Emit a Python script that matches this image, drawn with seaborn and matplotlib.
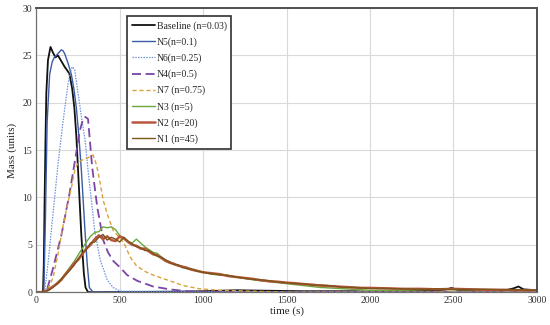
import numpy as np
import pandas as pd
import matplotlib
matplotlib.use("Agg")
import matplotlib.pyplot as plt
import seaborn as sns

# ---------------- data ----------------
t_base = [0, 40, 45, 50, 55, 60, 70, 85, 100, 115, 130, 150, 170, 198, 215, 228,
          240, 250, 260, 270, 285, 295, 310, 400, 800, 1000, 1200, 1400, 1600,
          1900, 2000, 2200, 2400, 2460, 2490, 2520, 2600, 2800, 2860, 2890,
          2920, 3000]
m_base = [0, 0, 3, 10, 16, 21, 24.5, 25.9, 25.3, 24.8, 25.0, 24.4, 23.8, 23.1,
          21.5, 19.5, 16.5, 13, 9.5, 6, 2, 0.5, 0, 0, 0.05, 0.1, 0.2, 0.15,
          0.1, 0.1, 0.05, 0.1, 0.15, 0.3, 0.45, 0.25, 0.15, 0.15, 0.4, 0.6,
          0.3, 0.2]

t_n5 = [0, 45, 55, 65, 80, 95, 108, 125, 140, 150, 160, 170, 190, 210, 225,
        240, 255, 270, 280, 290, 305, 318, 340, 3000]
m_n5 = [0, 0, 8, 18, 23, 24.3, 24.8, 25.1, 25.4, 25.6, 25.5, 25.2, 24.2,
        23.0, 21.5, 19.5, 16.5, 12.9, 10, 7, 3, 0.5, 0, 0]

t_n6 = [0, 50, 70, 90, 110, 130, 160, 190, 205, 215, 230, 250, 275, 293, 310,
        330, 350, 383, 425, 460, 503, 3000]
m_n6 = [0, 0, 3, 6.5, 10, 13.5, 18, 22, 23.3, 23.8, 23.5, 21, 18, 16, 12.9,
        9.7, 6.5, 3.4, 1.3, 0.5, 0.1, 0]

t_n4 = [0, 60, 100, 150, 200, 228, 260, 282, 295, 310, 335, 365, 401, 430,
        461, 503, 545, 605, 700, 800, 900, 1000, 3000]
m_n4 = [0, 0, 2.5, 6, 10.5, 13.5, 17, 18.4, 18.5, 18.3, 13.2, 9.0, 5.5, 4.2,
        3.3, 2.6, 1.8, 1.2, 0.6, 0.3, 0.1, 0, 0]

t_n7 = [0, 60, 100, 130, 160, 190, 210, 230, 250, 280, 310, 340, 360, 380,
        401, 430, 461, 503, 530, 563, 600, 650, 700, 800, 880, 980, 1100,
        1300, 1500, 3000]
m_n7 = [0, 0, 1.5, 4, 7, 9.5, 11, 12.8, 13.7, 14.0, 14.2, 14.5, 13.5, 11.8,
        9.7, 8.0, 6.5, 5.7, 5.0, 3.7, 2.8, 2.2, 1.8, 1.2, 0.7, 0.35, 0.2,
        0.1, 0, 0]

t_slow = ([0, 25, 50, 75, 100, 125, 150, 175, 200, 225, 250, 275, 300, 325,
           350, 375, 400, 425, 450, 475, 500, 525, 550, 575, 600, 625, 650,
           675, 700, 725, 750, 775, 800, 825, 850, 875, 900, 925, 950, 975,
           1000]
          + [1050, 1100, 1150, 1200, 1250, 1300, 1350, 1400, 1450, 1500,
             1550, 1600, 1650, 1700, 1750, 1800, 1850, 1900, 1950, 2000]
          + [2100, 2200, 2300, 2400, 2500, 2600, 2700, 2800, 2900, 3000])

m_n3 = ([0, 0, 0.05, 0.3, 0.6, 1.0, 1.4, 2.0, 2.6, 3.2, 3.9, 4.6, 5.3, 5.9,
         6.3, 6.4, 6.9, 6.8, 6.9, 6.6, 6.0, 5.6, 5.3, 5.2, 5.6, 5.2, 4.8,
         4.5, 4.2, 4.1, 3.7, 3.4, 3.2, 3.0, 2.8, 2.7, 2.5, 2.4, 2.4, 2.2,
         2.1]
        + [1.9, 1.8, 1.8, 1.6, 1.45, 1.3, 1.2, 1.1, 1.0, 0.9, 0.8, 0.7, 0.6,
           0.5, 0.45, 0.4, 0.35, 0.3, 0.25, 0.2]
        + [0.2, 0.2, 0.25, 0.3, 0.25, 0.25, 0.2, 0.2, 0.2, 0.2])

m_n2 = ([0, 0, 0.05, 0.3, 0.6, 0.9, 1.3, 1.9, 2.4, 3.0, 3.4, 4.0, 4.6, 5.0,
         5.6, 6.0, 5.6, 5.9, 5.5, 5.4, 5.9, 5.7, 5.3, 5.0, 4.9, 4.6, 4.6,
         4.3, 4.0, 3.9, 3.6, 3.3, 3.1, 3.0, 2.8, 2.7, 2.6, 2.4, 2.3, 2.2,
         2.1]
        + [2.0, 1.9, 1.7, 1.6, 1.5, 1.4, 1.25, 1.15, 1.1, 1.0, 0.95, 0.85,
           0.8, 0.7, 0.65, 0.6, 0.55, 0.5, 0.45, 0.45]
        + [0.4, 0.35, 0.35, 0.3, 0.35, 0.3, 0.25, 0.25, 0.2, 0.2])

m_n1 = ([0, 0, 0.05, 0.2, 0.5, 0.9, 1.4, 1.8, 2.3, 2.8, 3.5, 4.1, 4.5, 5.2,
         5.3, 5.8, 6.1, 5.5, 5.8, 5.6, 5.3, 5.8, 5.4, 5.1, 4.8, 4.7, 4.4,
         4.4, 4.1, 3.8, 3.7, 3.4, 3.2, 2.9, 2.9, 2.6, 2.5, 2.5, 2.3, 2.2,
         2.1]
        + [1.95, 1.85, 1.75, 1.6, 1.45, 1.35, 1.3, 1.2, 1.05, 1.0, 0.9, 0.9,
           0.75, 0.75, 0.7, 0.6, 0.5, 0.5, 0.45, 0.4]
        + [0.4, 0.35, 0.3, 0.35, 0.3, 0.3, 0.3, 0.25, 0.25, 0.2])

labels = ["Baseline (n=0.03)", "N5(n=0.1)", "N6(n=0.25)", "N4(n=0.5)",
          "N7 (n=0.75)", "N3 (n=5)", "N2 (n=20)", "N1 (n=45)"]
x_ticks = [0, 500, 1000, 1500, 2000, 2500, 3000]
y_ticks = [0, 5, 10, 15, 20, 25, 30]

series = [
    (t_base, m_base, dict(color="#111111", lw=1.3, ls="-")),
    (t_n5, m_n5, dict(color="#3A5CA8", lw=1.0, ls="-")),
    (t_n6, m_n6, dict(color="#6F92DA", lw=0.9, ls=(0, (1.2, 1.0)))),
    (t_n4, m_n4, dict(color="#7B45A8", lw=1.3, ls=(0, (5, 2.5)))),
    (t_n7, m_n7, dict(color="#D9A238", lw=1.0, ls=(0, (3, 2)))),
    (t_slow, m_n3, dict(color="#6AA83E", lw=1.0, ls="-")),
    (t_slow, m_n2, dict(color="#B8563E", lw=1.8, ls="-")),
    (t_slow, m_n1, dict(color="#7A5418", lw=1.0, ls="-")),
]

# ---------------- plot ----------------
sns.set_theme(style="white")
plt.rcParams["font.family"] = ["Liberation Serif", "DejaVu Serif"]

fig = plt.figure(figsize=(5.5, 3.25), dpi=100)
ax = fig.add_axes([0.066, 0.101, 0.91, 0.874])

for (t, m, st), lab in zip(series, labels):
    df = pd.DataFrame({"time": t, "mass": m})
    sns.lineplot(data=df, x="time", y="mass", ax=ax, color=st["color"],
                 linewidth=st["lw"], linestyle=st["ls"], label=lab,
                 estimator=None, sort=False)

ax.set_xlim(0, 3000)
ax.set_ylim(0, 30)
ax.set_xticks(x_ticks)
ax.set_yticks(y_ticks)
ax.tick_params(axis="both", labelsize=7, length=0, pad=3, colors="#333333")
ax.grid(True, color="#D9D9D9", lw=0.8)
ax.set_axisbelow(True)
ax.set_xlabel("time (s)", fontsize=8, labelpad=1, color="#222222")
ax.set_ylabel("Mass (units)", fontsize=8, labelpad=4, color="#222222")
for s in ["left", "bottom"]:
    ax.spines[s].set_color("#707070")
    ax.spines[s].set_linewidth(0.9)
for s in ["top", "right"]:
    ax.spines[s].set_color("#505050")
    ax.spines[s].set_linewidth(1.4)

leg = ax.legend(loc="upper left", bbox_to_anchor=(0.182, 0.972),
                fontsize=7, frameon=True, fancybox=False, framealpha=1,
                edgecolor="#303030", handlelength=2.3, handletextpad=0.2,
                labelspacing=0.68, borderpad=0.5, borderaxespad=0)
leg.get_frame().set_linewidth(1.2)

fig.savefig("out.png", dpi=100)
